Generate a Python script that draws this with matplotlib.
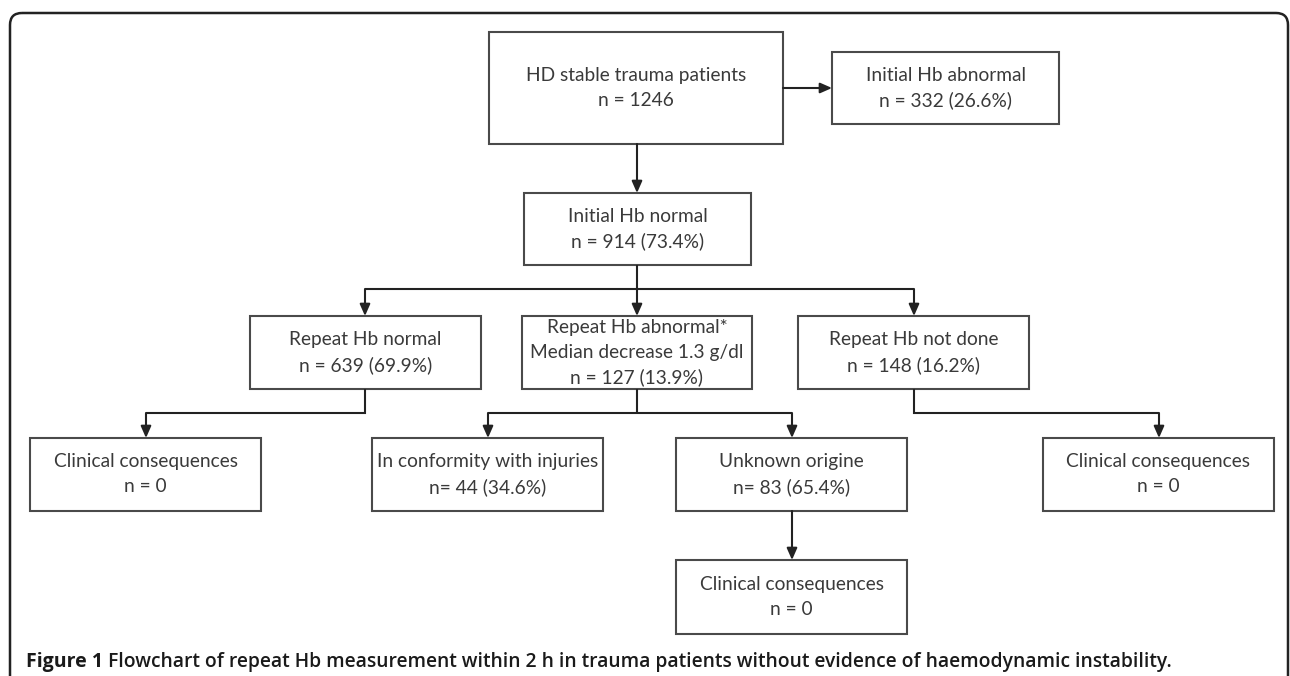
import matplotlib
matplotlib.use("Agg")
import matplotlib.pyplot as plt
from matplotlib.patches import Rectangle, FancyBboxPatch

# ---- data (text content of the flowchart) ----
box_titles = [
    "HD stable trauma patients",
    "Initial Hb abnormal",
    "Initial Hb normal",
    "Repeat Hb normal",
    "Repeat Hb abnormal*\nMedian decrease 1.3 g/dl",
    "Repeat Hb not done",
    "Clinical consequences",
    "In conformity with injuries",
    "Unknown origine",
    "Clinical consequences",
    "Clinical consequences",
]
box_counts = [
    "n = 1246",
    "n = 332 (26.6%)",
    "n = 914 (73.4%)",
    "n = 639 (69.9%)",
    "n = 127 (13.9%)",
    "n = 148 (16.2%)",
    "n = 0",
    "n= 44 (34.6%)",
    "n= 83 (65.4%)",
    "n = 0",
    "n = 0",
]
caption_label = "Figure 1"
caption_text = ("Flowchart of repeat Hb measurement within 2 h in trauma patients "
                "without evidence of haemodynamic instability.")

# ---- layout (pixel coordinates: x0, y0, x1, y1) ----
layout = [
    (489, 32, 783, 144),
    (832, 52, 1059, 124),
    (524, 193, 751, 265),
    (250, 316, 481, 389),
    (522, 316, 752, 389),
    (798, 316, 1029, 389),
    (30, 438, 261, 511),
    (372, 438, 603, 511),
    (676, 438, 907, 511),
    (1043, 438, 1274, 511),
    (676, 560, 907, 634),
]

W, H = 1290, 676
fig = plt.figure(figsize=(W / 100, H / 100), dpi=100)
ax = fig.add_axes([0, 0, 1, 1])
ax.set_xlim(0, W)
ax.set_ylim(H, 0)
ax.axis("off")

box_color = "#4a4a4a"
text_color = "#3a3a3a"
line_color = "#222222"
LW = 1.5

# outer rounded frame
frame = FancyBboxPatch((10, 13), 1278, 720, boxstyle="round,pad=0,rounding_size=12",
                       facecolor="none", edgecolor="#222222", linewidth=1.8,
                       clip_on=False)
ax.add_patch(frame)

# boxes
for (x0, y0, x1, y1), title, cnt in zip(layout, box_titles, box_counts):
    ax.add_patch(Rectangle((x0, y0), x1 - x0, y1 - y0, facecolor="white",
                           edgecolor=box_color, linewidth=LW))
    lines = title.split("\n") + [cnt]
    cy = (y0 + y1) / 2
    n = len(lines)
    for i, ln in enumerate(lines):
        yy = cy + (i - (n - 1) / 2) * 25
        ax.text((x0 + x1) / 2, yy, ln, ha="center", va="center",
                fontsize=13.8, family="Lato", color=text_color)


def arrow(x0, y0, x1, y1):
    ax.annotate("", xy=(x1, y1), xytext=(x0, y0),
                arrowprops=dict(arrowstyle="-|>,head_length=0.5,head_width=0.22",
                                color=line_color, lw=LW, shrinkA=0, shrinkB=0,
                                mutation_scale=14))


def poly(xs, ys):
    ax.plot(xs, ys, color=line_color, lw=LW, solid_capstyle="butt",
            solid_joinstyle="miter")


# HD stable -> abnormal (right)
arrow(layout[0][2], 88, layout[1][0], 88)
# HD stable -> initial normal
arrow(637, layout[0][3], 637, layout[2][1])
# initial normal -> three branches
branch_y = 289
poly([637, 637], [layout[2][3], branch_y])
poly([365, 914], [branch_y, branch_y])
for x in (365, 637, 914):
    arrow(x, branch_y, x, layout[3][1])
# second-level branches
sub_y = 413
poly([365, 365, 146], [layout[3][3], sub_y, sub_y])
arrow(146, sub_y, 146, layout[6][1])
poly([637, 637], [layout[4][3], sub_y])
poly([488, 792], [sub_y, sub_y])
arrow(488, sub_y, 488, layout[7][1])
arrow(792, sub_y, 792, layout[8][1])
poly([914, 914, 1159], [layout[5][3], sub_y, sub_y])
arrow(1159, sub_y, 1159, layout[9][1])
# unknown origine -> clinical consequences
arrow(792, layout[8][3], 792, layout[10][1])

# caption
t1 = ax.text(26, 662, caption_label, ha="left", va="center", fontsize=14,
             family="Open Sans", fontweight="bold", color="#1a1a1a")
fig.canvas.draw()
bb = t1.get_window_extent()
x_after = ax.transData.inverted().transform((bb.x1, bb.y0))[0]
ax.text(x_after + 5, 662, caption_text, ha="left", va="center", fontsize=13.85,
        family="Open Sans", fontweight="semibold", color="#1a1a1a")

fig.savefig("out.png", dpi=100, facecolor="white")
